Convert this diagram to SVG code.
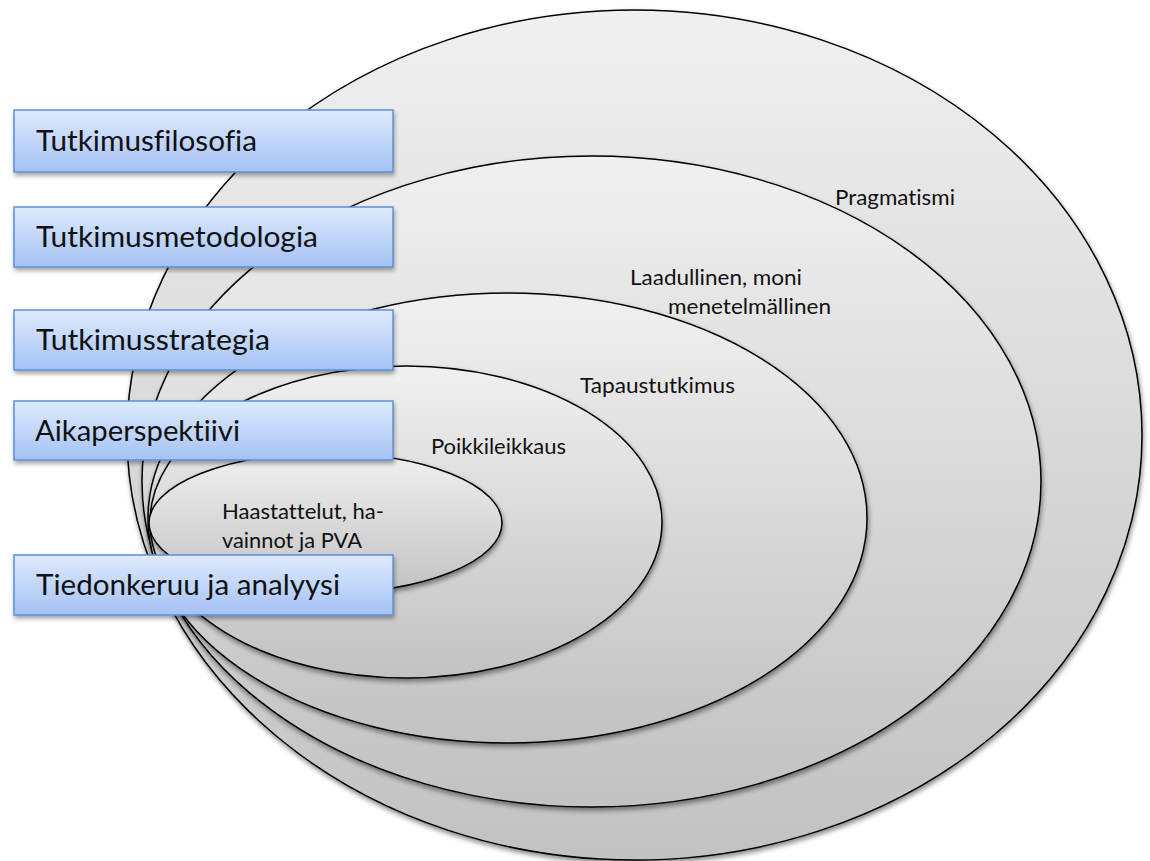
<svg xmlns="http://www.w3.org/2000/svg" width="1150" height="861" viewBox="0 0 1150 861">
  <defs>
    <linearGradient id="gray" x1="0" y1="0" x2="0" y2="1">
      <stop offset="0" stop-color="#f0f0f0"/>
      <stop offset="1" stop-color="#c2c2c2"/>
    </linearGradient>
    <linearGradient id="blue" x1="0" y1="0" x2="0" y2="1">
      <stop offset="0" stop-color="#dfeafd"/>
      <stop offset="1" stop-color="#a4c2f4"/>
    </linearGradient>
    <filter id="shadow" x="-10%" y="-10%" width="120%" height="125%">
      <feDropShadow dx="1" dy="3" stdDeviation="2.5" flood-color="#000" flood-opacity="0.45"/>
    </filter>
    <filter id="bshadow" x="-10%" y="-20%" width="120%" height="150%">
      <feDropShadow dx="1" dy="3" stdDeviation="2" flood-color="#000" flood-opacity="0.35"/>
    </filter>
  </defs>
  <style>
    .ring { fill: url(#gray); stroke: #000; stroke-width: 1.5; filter: url(#shadow); }
    .box { fill: url(#blue); stroke: #5c8fd8; stroke-width: 1.5; filter: url(#bshadow); }
    text { font-variant-ligatures: none; font-feature-settings: "liga" 0, "clig" 0; }
    .btxt { font-family: Lato, "Open Sans", sans-serif; font-size: 29px; fill: #111; }
    .ltxt { font-family: Lato, "Open Sans", sans-serif; font-size: 21px; fill: #111; }
  </style>

  <g id="ring-pragmatismi">
    <ellipse class="ring" cx="634.5" cy="435" rx="507.5" ry="425"/>
    <text class="ltxt" x="835" y="205" textLength="120" lengthAdjust="spacingAndGlyphs">Pragmatismi</text>
  </g>
  <g id="ring-laadullinen">
    <ellipse class="ring" cx="591.5" cy="481.5" rx="449.5" ry="325.5"/>
    <text class="ltxt" x="630" y="285" textLength="172" lengthAdjust="spacingAndGlyphs">Laadullinen, moni</text>
    <text class="ltxt" x="668" y="314" textLength="163" lengthAdjust="spacingAndGlyphs">menetelmällinen</text>
  </g>
  <g id="ring-tapaustutkimus">
    <ellipse class="ring" cx="507.5" cy="518" rx="359.5" ry="225"/>
    <text class="ltxt" x="580" y="393" textLength="155" lengthAdjust="spacingAndGlyphs">Tapaustutkimus</text>
  </g>
  <g id="ring-poikkileikkaus">
    <ellipse class="ring" cx="406" cy="522" rx="256" ry="156"/>
    <text class="ltxt" x="431" y="454" textLength="135" lengthAdjust="spacingAndGlyphs">Poikkileikkaus</text>
  </g>
  <g id="ring-haastattelut">
    <ellipse class="ring" cx="325.5" cy="523" rx="176.5" ry="70"/>
    <text class="ltxt" x="222" y="519" textLength="162" lengthAdjust="spacingAndGlyphs">Haastattelut, ha-</text>
    <text class="ltxt" x="222" y="548" textLength="140" lengthAdjust="spacingAndGlyphs">vainnot ja PVA</text>
  </g>

  <g id="connectors"/>

  <g id="box-tutkimusfilosofia">
    <rect class="box" x="14" y="110" width="379" height="62"/>
    <text class="btxt" x="36" y="151" textLength="221" lengthAdjust="spacingAndGlyphs">Tutkimusfilosofia</text>
  </g>
  <g id="box-tutkimusmetodologia">
    <rect class="box" x="14" y="207" width="379" height="60"/>
    <text class="btxt" x="36" y="247" textLength="282" lengthAdjust="spacingAndGlyphs">Tutkimusmetodologia</text>
  </g>
  <g id="box-tutkimusstrategia">
    <rect class="box" x="14" y="310" width="379" height="60"/>
    <text class="btxt" x="36" y="350" textLength="234" lengthAdjust="spacingAndGlyphs">Tutkimusstrategia</text>
  </g>
  <g id="box-aikaperspektiivi">
    <rect class="box" x="14" y="401" width="379" height="59"/>
    <text class="btxt" x="35" y="441" textLength="205" lengthAdjust="spacingAndGlyphs">Aikaperspektiivi</text>
  </g>
  <g id="box-tiedonkeruu">
    <rect class="box" x="14" y="555" width="379" height="60"/>
    <text class="btxt" x="36" y="595" textLength="304" lengthAdjust="spacingAndGlyphs">Tiedonkeruu ja analyysi</text>
  </g>
</svg>
